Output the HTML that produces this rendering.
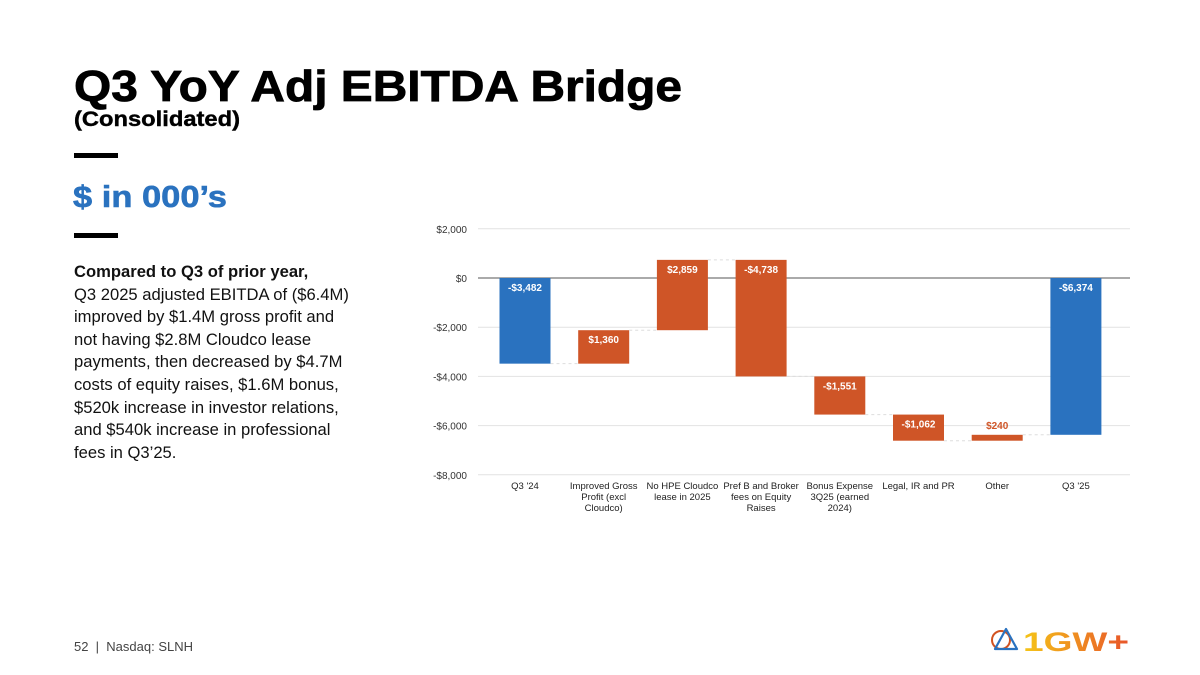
<!DOCTYPE html>
<html><head><meta charset="utf-8"><style>
body{margin:0;width:1200px;height:675px;background:#fff;font-family:"Liberation Sans",sans-serif;position:relative;overflow:hidden}
.a{position:absolute;margin:0}
</style></head><body>
<svg class="a" style="left:0;top:0" width="720" height="240">
<text x="74" y="101" font-size="44" font-weight="bold" fill="#000" font-family="Liberation Sans,sans-serif" textLength="608" lengthAdjust="spacingAndGlyphs" stroke="#000" stroke-width="0.8">Q3 YoY Adj EBITDA Bridge</text>
<text x="74" y="126" font-size="21" font-weight="bold" fill="#000" font-family="Liberation Sans,sans-serif" textLength="166" lengthAdjust="spacingAndGlyphs" stroke="#000" stroke-width="0.4">(Consolidated)</text>
<text x="73" y="207" font-size="31" font-weight="bold" fill="#2a72bf" font-family="Liberation Sans,sans-serif" textLength="154" lengthAdjust="spacingAndGlyphs" stroke="#2a72bf" stroke-width="0.6">$ in 000’s</text>
</svg>
<div class="a" style="left:74px;top:153px;width:44px;height:5px;background:#000"></div>
<div class="a" style="left:74px;top:233px;width:44px;height:5px;background:#000"></div>
<div class="a" style="left:74px;top:261px;white-space:nowrap;font-size:16.6px;line-height:22.6px;color:#111"><b>Compared to Q3 of prior year,</b><br>Q3 2025 adjusted EBITDA of ($6.4M)<br>improved by $1.4M gross profit and<br>not having $2.8M Cloudco lease<br>payments, then decreased by $4.7M<br>costs of equity raises, $1.6M bonus,<br>$520k increase in investor relations,<br>and $540k increase in professional<br>fees in Q3’25.</div>
<div class="a" style="left:74px;top:639px;font-size:13px;color:#444">52 &nbsp;| &nbsp;Nasdaq: SLNH</div>
<svg class="a" style="left:985px;top:622px" width="150" height="36">
<circle cx="16" cy="18" r="9" fill="none" stroke="#d2521f" stroke-width="2"/>
<path d="M21 7 L32 27 L10 27 Z" fill="none" stroke="#2a72bf" stroke-width="2.2" stroke-linejoin="round"/>
<defs><linearGradient id="lg" x1="0" x2="1"><stop offset="0" stop-color="#f5c518"/><stop offset="1" stop-color="#e8542a"/></linearGradient></defs>
<text x="38" y="29" font-size="27" font-weight="bold" fill="url(#lg)" font-family="Liberation Sans,sans-serif" textLength="106" lengthAdjust="spacingAndGlyphs">1GW+</text>
</svg>
<svg class="a" id="chart" style="left:0;top:0" width="1200" height="675"></svg>
<script>
const categories=[["Q3 '24"],["Improved Gross","Profit (excl","Cloudco)"],["No HPE Cloudco","lease in 2025"],["Pref B and Broker","fees on Equity","Raises"],["Bonus Expense","3Q25 (earned","2024)"],["Legal, IR and PR"],["Other"],["Q3 '25"]];
const deltas=[-3482,1360,2859,-4738,-1551,-1062,240,-6374];
const isTotal=[true,false,false,false,false,false,false,true];
const valueLabels=["-$3,482","$1,360","$2,859","-$4,738","-$1,551","-$1,062","$240","-$6,374"];
const yTicks=[2000,0,-2000,-4000,-6000,-8000];
const yTickLabels=["$2,000","$0","-$2,000","-$4,000","-$6,000","-$8,000"];
const svg=document.getElementById('chart');const NS='http://www.w3.org/2000/svg';
const y=v=>278-v*0.0246;const x=i=>525+i*78.7;const bw=51;
function mk(t,a){const e=document.createElementNS(NS,t);for(const k in a)e.setAttribute(k,a[k]);svg.appendChild(e);return e;}
yTicks.forEach((t,i)=>{
const g=mk('line',{x1:478,x2:1130,y1:y(t),y2:y(t),stroke:t===0?'#aaa':'#e2e2e2','stroke-width':t===0?2:1});

const l=mk('text',{x:467,y:y(t)+4,'text-anchor':'end','font-size':10,fill:'#333','font-family':'Liberation Sans,sans-serif'});l.textContent=yTickLabels[i];
});
let run=0;
deltas.forEach((d,i)=>{
let a,b;if(isTotal[i]){a=0;b=d;run=d;}else{a=run;b=run+d;run=b;}
const top=y(Math.max(a,b)),bot=y(Math.min(a,b));
const r=mk('rect',{x:x(i)-bw/2,y:top,width:bw,height:Math.max(bot-top,1),fill:isTotal[i]?'#2a72bf':'#cf5527'});

if(i<deltas.length-1){const c=mk('line',{x1:x(i)+bw/2,x2:x(i+1)-bw/2,y1:y(run),y2:y(run),stroke:'#ddd','stroke-dasharray':'3,3'});
}
const small=(bot-top)<20;
const t=mk('text',{x:x(i),y:small?top-6:top+13,'text-anchor':'middle','font-size':10,'font-weight':'bold',fill:small?'#cf5527':'#fff','font-family':'Liberation Sans,sans-serif'});t.textContent=valueLabels[i];

categories[i].forEach((ln,j)=>{const c=mk('text',{x:x(i),y:489+j*11,'text-anchor':'middle','font-size':9.5,fill:'#222','font-family':'Liberation Sans,sans-serif'});c.textContent=ln;
});
});
</script>
</body></html>
